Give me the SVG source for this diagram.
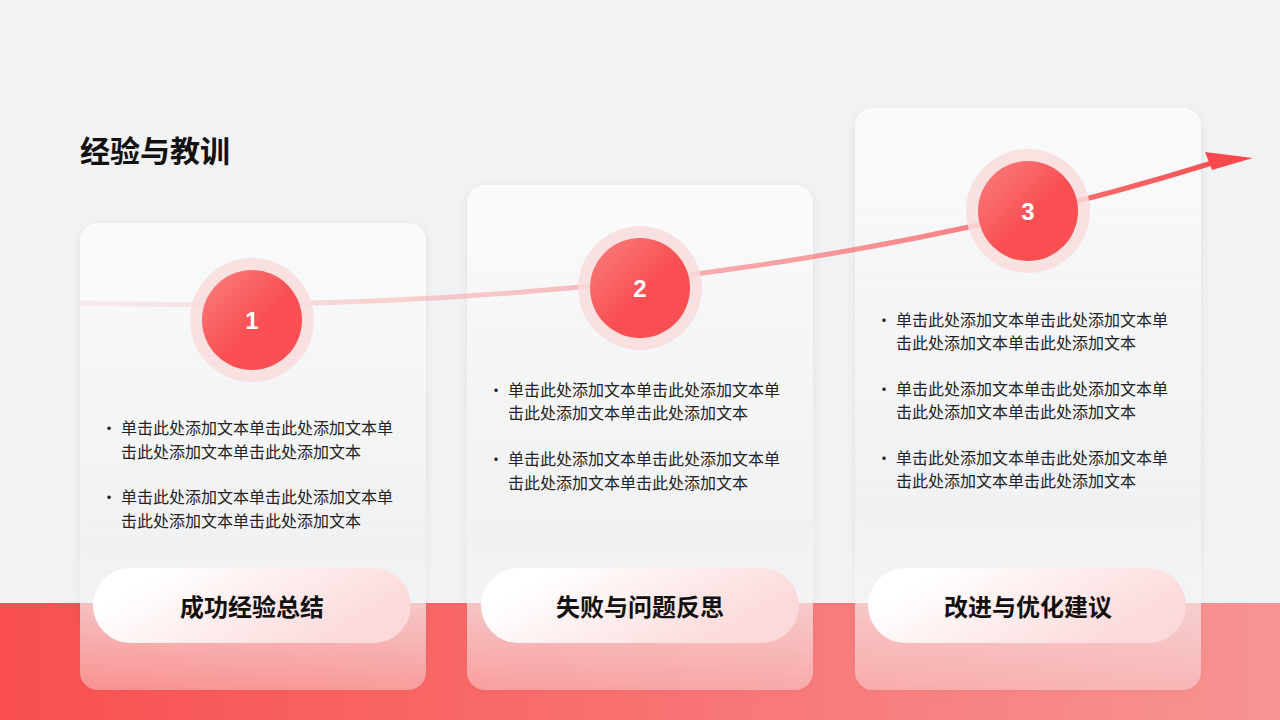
<svg xmlns="http://www.w3.org/2000/svg" width="1280" height="720" viewBox="0 0 1280 720">
<defs>
<linearGradient id="band" x1="0" y1="0" x2="1" y2="0"><stop offset="0" stop-color="#f94f4f"/><stop offset="1" stop-color="#f89494"/></linearGradient>
<linearGradient id="card" x1="0" y1="0" x2="0" y2="1"><stop offset="0" stop-color="#fbfbfb" stop-opacity="0.95"/><stop offset="0.7" stop-color="#f1f2f3" stop-opacity="0.85"/><stop offset="1" stop-color="#ffffff" stop-opacity="0.35"/></linearGradient>
<linearGradient id="pill" x1="0" y1="0" x2="1" y2="0.4"><stop offset="0.2" stop-color="#ffffff"/><stop offset="1" stop-color="#fcd9da"/></linearGradient>
<linearGradient id="ball" x1="0" y1="0" x2="1" y2="1"><stop offset="0" stop-color="#f98080"/><stop offset="0.55" stop-color="#f94f52"/></linearGradient>
<linearGradient id="line" x1="80" y1="0" x2="1250" y2="0" gradientUnits="userSpaceOnUse"><stop offset="0" stop-color="#f7c9cb" stop-opacity="0.3"/><stop offset="1" stop-color="#f84a4c"/></linearGradient>
<filter id="sh" x="-10%" y="-10%" width="120%" height="120%"><feDropShadow dx="0" dy="2" stdDeviation="4" flood-color="#000" flood-opacity="0.08"/></filter>
</defs>
<style>
.t{font-family:"Noto Sans CJK SC","Liberation Sans",sans-serif;font-size:16px;fill:#222}
.h{font-family:"Noto Sans CJK SC",sans-serif;font-size:24px;font-weight:bold;fill:#111;text-anchor:middle}
.n{font-family:"Liberation Sans",sans-serif;font-size:24px;font-weight:bold;fill:#fff;text-anchor:middle}
</style>
<rect width="1280" height="720" fill="#f1f2f4"/>
<rect y="603" width="1280" height="117" fill="url(#band)"/>
<text x="80" y="162" font-family="Noto Sans CJK SC,sans-serif" font-size="30" font-weight="bold" fill="#111">经验与教训</text>
<g id="card1">
<rect x="80" y="223" width="346" height="467" rx="18" fill="url(#card)" filter="url(#sh)"/>
<rect x="93" y="568" width="318" height="75" rx="37.5" fill="url(#pill)"/>
<text class="h" x="252" y="616">成功经验总结</text>
<text class="t" x="101" y="434">•</text>
<text class="t" x="121" y="434">单击此处添加文本单击此处添加文本单</text>
<text class="t" x="121" y="458">击此处添加文本单击此处添加文本</text>
<text class="t" x="101" y="503">•</text>
<text class="t" x="121" y="503">单击此处添加文本单击此处添加文本单</text>
<text class="t" x="121" y="527">击此处添加文本单击此处添加文本</text>
</g>
<g id="card2">
<rect x="467" y="185" width="346" height="505" rx="18" fill="url(#card)" filter="url(#sh)"/>
<rect x="481" y="568" width="318" height="75" rx="37.5" fill="url(#pill)"/>
<text class="h" x="640" y="616">失败与问题反思</text>
<text class="t" x="488" y="396">•</text>
<text class="t" x="508" y="396">单击此处添加文本单击此处添加文本单</text>
<text class="t" x="508" y="419">击此处添加文本单击此处添加文本</text>
<text class="t" x="488" y="465">•</text>
<text class="t" x="508" y="465">单击此处添加文本单击此处添加文本单</text>
<text class="t" x="508" y="489">击此处添加文本单击此处添加文本</text>
</g>
<g id="card3">
<rect x="855" y="108" width="346" height="582" rx="18" fill="url(#card)" filter="url(#sh)"/>
<rect x="868" y="568" width="318" height="75" rx="37.5" fill="url(#pill)"/>
<text class="h" x="1028" y="616">改进与优化建议</text>
<text class="t" x="876" y="326">•</text>
<text class="t" x="896" y="326">单击此处添加文本单击此处添加文本单</text>
<text class="t" x="896" y="349">击此处添加文本单击此处添加文本</text>
<text class="t" x="876" y="395">•</text>
<text class="t" x="896" y="395">单击此处添加文本单击此处添加文本单</text>
<text class="t" x="896" y="418">击此处添加文本单击此处添加文本</text>
<text class="t" x="876" y="464">•</text>
<text class="t" x="896" y="464">单击此处添加文本单击此处添加文本单</text>
<text class="t" x="896" y="487">击此处添加文本单击此处添加文本</text>
</g>
<g id="connectors">
<path d="M80,303 C420,312 820,285 1212,163" fill="none" stroke="url(#line)" stroke-width="5"/>
<polygon points="1205,152 1253,158 1212,170" fill="#f84a4c"/>
</g>
<g id="m1"><circle cx="252" cy="320" r="62" fill="#f9dcdd" opacity="0.85"/><circle cx="252" cy="320" r="50" fill="url(#ball)"/><text class="n" x="252" y="329">1</text></g>
<g id="m2"><circle cx="640" cy="288" r="62" fill="#f9dcdd" opacity="0.85"/><circle cx="640" cy="288" r="50" fill="url(#ball)"/><text class="n" x="640" y="297">2</text></g>
<g id="m3"><circle cx="1028" cy="211" r="62" fill="#f9dcdd" opacity="0.85"/><circle cx="1028" cy="211" r="50" fill="url(#ball)"/><text class="n" x="1028" y="220">3</text></g>
</svg>
